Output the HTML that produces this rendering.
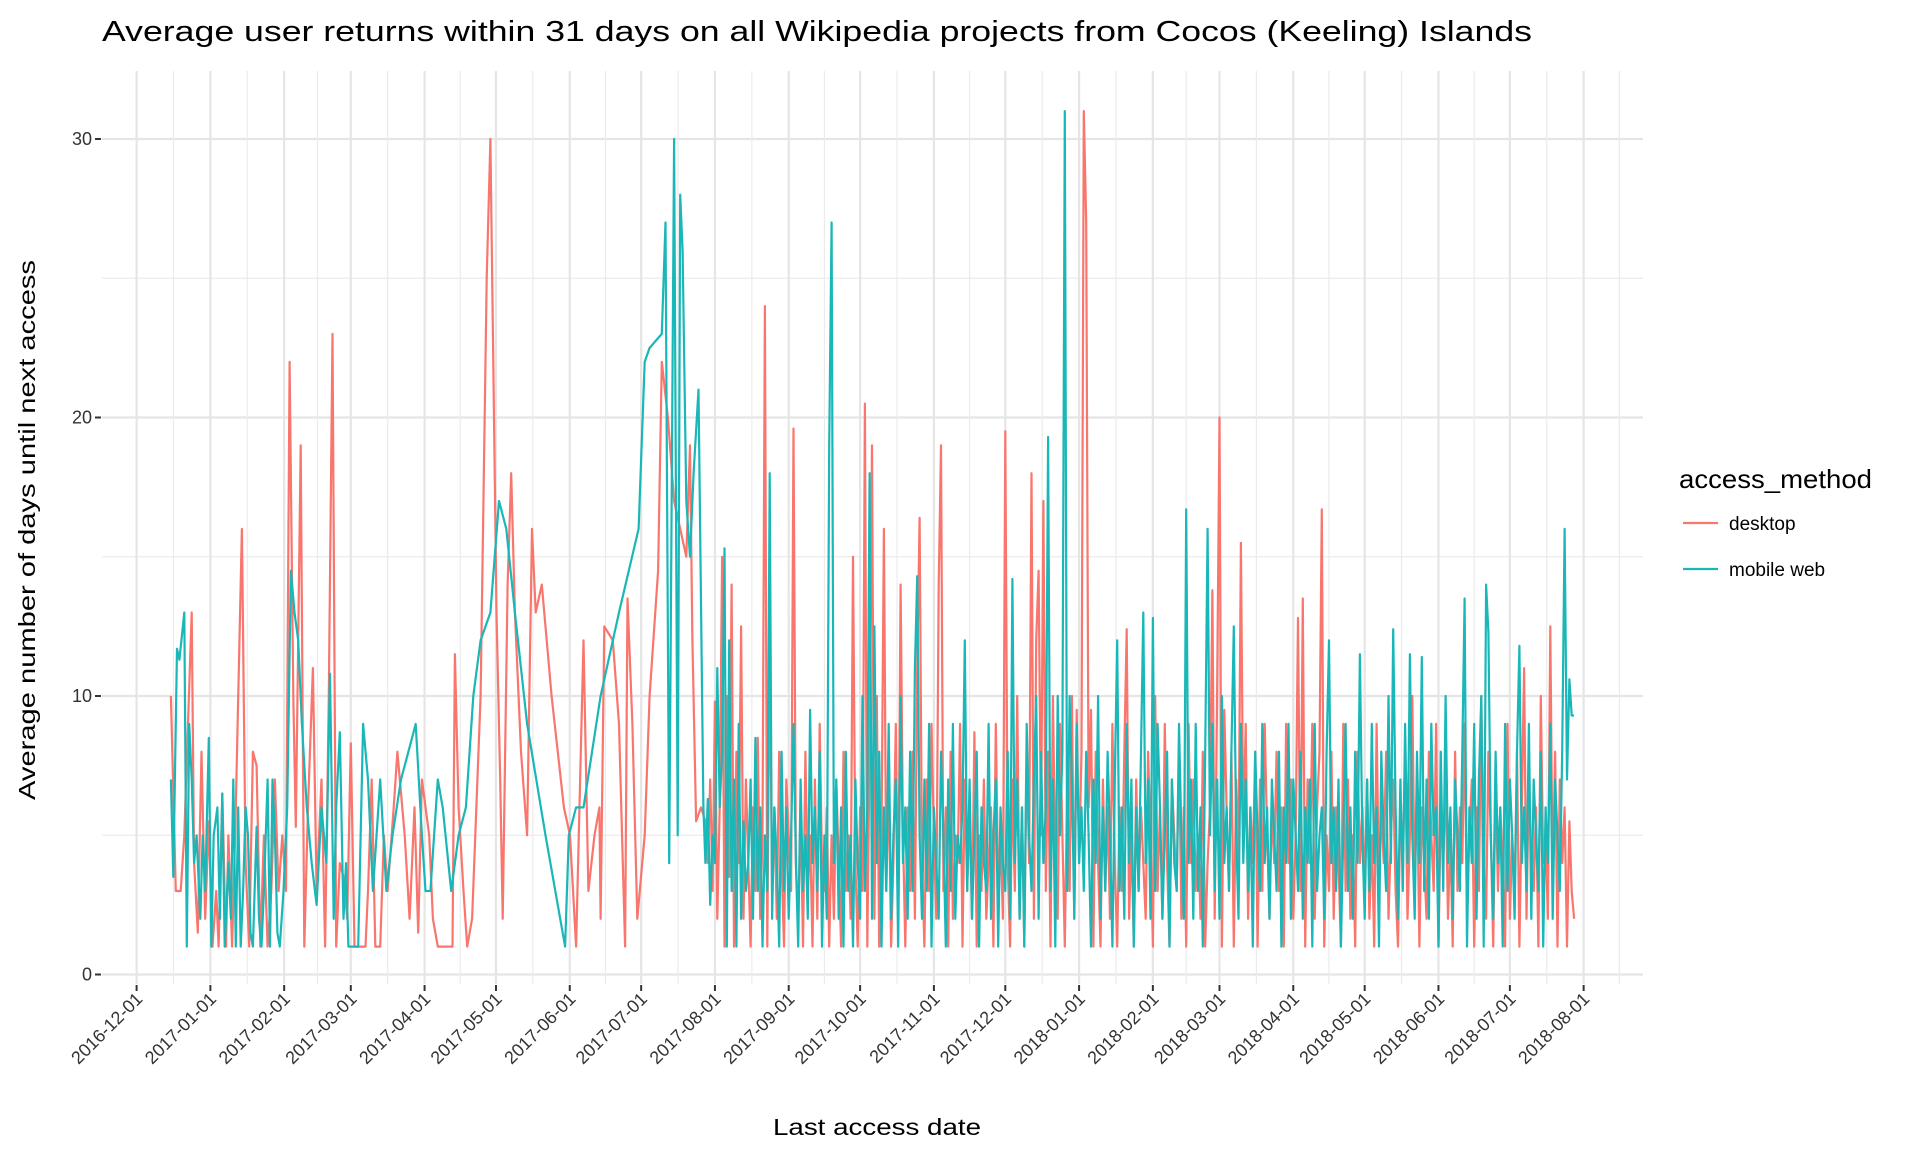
<!DOCTYPE html>
<html><head><meta charset="utf-8"><style>
body{margin:0;background:#fff}
svg{display:block;font-family:"Liberation Sans",sans-serif}
</style></head><body>
<svg id="chart" width="1920" height="1152" viewBox="0 0 1920 1152" xmlns="http://www.w3.org/2000/svg">
<rect width="1920" height="1152" fill="#fff"/>
<text x="102" y="41" font-size="29" fill="#000" textLength="1430" lengthAdjust="spacingAndGlyphs">Average user returns within 31 days on all Wikipedia projects from Cocos (Keeling) Islands</text>
<g id="grid"></g>
<g id="axes"></g>
<g id="series"></g>
<text transform="translate(35,530) rotate(-90)" text-anchor="middle" font-size="23" textLength="540" lengthAdjust="spacingAndGlyphs">Average number of days until next access</text>
<text x="877" y="1135" text-anchor="middle" font-size="23" textLength="208" lengthAdjust="spacingAndGlyphs">Last access date</text>
<g>
<text x="1679" y="488" font-size="26" textLength="193" lengthAdjust="spacingAndGlyphs">access_method</text>
<g><line x1="1683" y1="523" x2="1718" y2="523" stroke="#F8766D" stroke-width="2.2"/><text x="1729" y="530" font-size="19">desktop</text></g>
<g><line x1="1683" y1="569" x2="1718" y2="569" stroke="#1AB7B8" stroke-width="2.2"/><text x="1729" y="576" font-size="19">mobile web</text></g>
</g>
</svg>
<script>
// day offsets are days since 2016-12-01
const yTicks=[0,10,20,30];
const xTickLabels=["2016-12-01","2017-01-01","2017-02-01","2017-03-01","2017-04-01","2017-05-01","2017-06-01","2017-07-01","2017-08-01","2017-09-01","2017-10-01","2017-11-01","2017-12-01","2018-01-01","2018-02-01","2018-03-01","2018-04-01","2018-05-01","2018-06-01","2018-07-01","2018-08-01"];
const desktopEarlyX=[139,143,147,150,156,158,161,164,167,170,173,176,178,181,184,186,189,192,197,200,203,206,209,212,215,218,221,224,227,230,233,236,239,241,245,248,251,255,258,262,265,268,271,274,277,280,283,286,289,292,298,300,303,306,310,313,316,321,324,330,334,338,341,344,350,353,357,363,369,371,374,378,381,385,392,397,400,405,408,410,414,417,420,425,430,434,437,442,450,460,465,470,476,480,485,489,490,493,500,505,510,512,516,520,526,530,537,540,545,550,555,560,563,565,568,572];
const desktopEarlyV=[10,3,3,5,13,4,1.5,8,2,5.5,1,3,1,6.5,1,5,1,6,16,4,1,8,7.5,1,5,1,3,7,3,5,3,22,10,5.3,19,1,6,11,3,7,1,10,23,1,4,3.5,2,8.3,1,1,1,3,7,1,1,5,3,6,8,5,2,6,1.5,7,5,2,1,1,1,11.5,6,3,1,2,10,25,30,13,7,2,14,18,13,8,5,16,13,14,10,6,5,1,12,3,5,6,2,12.5,12,9,1,13.5,9,2,5,10,14.5,22,20,17,16,15,19,12,5.5,6];
const mobileEarlyX=[139,141,144,146,150,152,154,156,158,160,163,165,167,170,172,174,177,179,181,183,186,188,190,192,194,196,198,200,202,204,206,209,211,213,215,218,220,222,224,226,228,231,234,237,240,243,246,250,254,258,262,266,269,272,274,277,280,282,284,288,292,296,300,304,310,315,320,327,333,339,344,347,351,357,361,368,374,380,386,392,400,407,413,420,430,445,461,464,470,476,490,505,521,526,530,540,543,546,550,553,555,557,560,563,566,570,574,577,580];
const mobileEarlyV=[7,3.5,11.7,11.3,13,1,9,7,4,5,2,5,3,8.5,1,5,6,2,6.5,1,4,2,7,1,6,1,3,6,5,1.5,1,5.3,2,1,3,7,1,7,5,1.5,1,3,6,14.5,13,12,9,6,4,2.5,6,4,10.8,2,6,8.7,2,4,1,1,1,9,7,3,7,3,5,7,8,9,5,3,3,7,6,3,5,6,10,12,13,17,16,13,9,5,1,5,6,6,10,13,16,22,22.5,23,27,4,30,5,28,26,17,15,18,21,6,2.5,6];
const denseStartDay=239;
const desktopDense=[5.5,4,7,3,9.8,2,6,15,1,10,3.5,14,1,8,4,12.5,2,7,4,1,6,3,8.5,2,5,24,1,12,3,6,2,8,4,1,7,5,3,19.6,4,2,6,1,8,3,5,1,7,2,9,4,3,6,1,5,2,7,4,1,8,3,5,2,15,4,1,6,3,20.5,1,8,19,2,10,1,5,16,3,7,1,4,9,2,14,5,1,6,3,8,2,11,16.4,4,1,7,3,9,5,2,14,19,3,6,1,8,2,5,4,9,1,7,3,6,2,8.7,1,5,3,7,2,4,6,1,9,3,5,2,19.5,4,1,7,3,10,2,6,1,8,4,18,2,12,14.5,5,17,3,8,1,10,4,2,9,5,1,7,3,10,2,9.5,4,8,31,27,6,9.5,1,8,4,1,7,3,6,2,9,4,1,6,3,8,12.4,2,5,1,7,3,6,4,2,8,5,1,10,3,6,2,9,4,1,7,5,3,8,2,6,1,9,4,7,3,5,2,8,1,4,6,13.8,2,10,20,1,9.5,6,3,8,1,7,4,15.5,5,9,2,6,4,8,1,7,3,9,5,2,6,4,8,3,6,1,9,4,7,2,5,12.8,3,13.5,1,7,4,9,2,6,8,16.7,1,5,3,8,2,6,4,1,9,3,7,2,5,1,8,4,6,3,7,2,5,1,9,3,6,4,8,2,5,7,3,1,6,4,8,2,5,10,3,7,1,6,4,2,8,5,3,9,1,6,4,7,2,5,1,8,3,6,4,9,2,5,7,1,6,3,10,4,2,8,5,1,7,3,6,4,1,9,2,5,3,8,1,6,11,2,7,4,3,6,1,10,4,5,2,12.5,3,8,1,7,4,6,1,5.5,3,2];
const mobileDense=[4,6.3,2.5,5,4,11,6,8,15.3,1,12,3,7,1,9,2,5.5,3,4,7,2,8.5,3,6,1,5,3,18,2,6,4,1,8,3,6,2,5,9,4,1,7,3,5,2,9.5,4,6,3,8,1,5,2,19,27,4,7,2,6,1,8,3,5,1,7,4,2,10,3,6,18,2,12.5,4,8,1,6,3,9,2,5,7,1,10,4,6,2,8,3,11,14.3,5,2,7,3,9,1,6,4,2,8,5,1,7,3,9,2,5,4,6,12,3,7,2,5,8,1,6,4,3,9,2,5,7,1,6,4,3,8,2,14.2,4,7,2,6,1,9,5,3,7,10,2,8,4,6,19.3,3,7,1,10,5,8,31,3,10,7,2,9,4,6,3,8,5,1,7,4,10,2,6,3,8,5,1,7,12,3,6,2,9,4,7,1,6,3,8,13,4,7,2,12.8,3,9,6,2,5,8,1,7,4,3,9,5,2,16.7,4,7,2,9,3,6,1,8,16,5,9,3,7,2,10,4,6,3,8,12.5,5,2,9,4,7,3,6,1,8,5,3,9,4,6,2,7,5,3,8,1,6,4,9,2,7,5,3,8,2,6,4,7,1,9,3,5,6,2,8,12,4,6,3,7,1,5,9,3,6,2,8,4,11.5,5,2,7,3,9,4,6,1,8,5,3,10,4,12.4,6,2,7,3,9,4,11.5,5,2,8,4,11.4,3,7,2,9,5,6,1,8,3,10,4,6,2,7,5,3,8,13.5,1,6,4,9,2,7,10,1,14,12.3,5,2,8,4,6,1,9,3,7,5,2,8,11.8,4,6,3,9,2,7,5,3,8,1,6,4,9,2,7,5,3,8,16,7,10.6,9.3,9.3];

const NS="http://www.w3.org/2000/svg";
const P={l:102,r:1643,t:71,b:984};
const X0=136.6,K=2.380;
function xDay(d){return X0+d*K;}
function yVal(v){return 974.5-27.85*v;}
function dispToDay(x){return (x-111)/1.944;}
function dayOf(s){return Math.round((Date.UTC(+s.slice(0,4),+s.slice(5,7)-1,+s.slice(8,10))-Date.UTC(2016,11,1))/86400000);}
function mk(tag,attrs,parent){const e=document.createElementNS(NS,tag);for(const k in attrs)e.setAttribute(k,attrs[k]);parent.appendChild(e);return e;}
const grid=document.getElementById('grid'),axes=document.getElementById('axes'),series=document.getElementById('series');
[5,15,25].forEach(v=>{const l=mk('line',{x1:P.l,x2:P.r,y1:yVal(v),y2:yVal(v),stroke:'#ebebeb','stroke-width':1.2},grid);

});
yTicks.forEach(v=>{const l=mk('line',{x1:P.l,x2:P.r,y1:yVal(v),y2:yVal(v),stroke:'#e5e5e5','stroke-width':2.2},grid);


const t=mk('line',{x1:95,x2:101,y1:yVal(v),y2:yVal(v),stroke:'#333','stroke-width':2},axes);


const tx=mk('text',{x:92,y:yVal(v)+6,'text-anchor':'end','font-size':18,fill:'#333'},axes);tx.textContent=v;

});
const tickDays=xTickLabels.map(dayOf);
const minors=[tickDays[0]-15];for(let i=0;i<tickDays.length-1;i++)minors.push((tickDays[i]+tickDays[i+1])/2);minors.push(tickDays[tickDays.length-1]+15);
minors.forEach(d=>{const x=xDay(d);if(x<P.l-1||x>P.r+1)return;const l=mk('line',{x1:x,x2:x,y1:P.t,y2:P.b,stroke:'#ebebeb','stroke-width':1.2},grid);

});
tickDays.forEach((d,i)=>{const x=xDay(d);const l=mk('line',{x1:x,x2:x,y1:P.t,y2:P.b,stroke:'#e5e5e5','stroke-width':2.2},grid);


const t=mk('line',{x1:x,x2:x,y1:985,y2:991,stroke:'#333','stroke-width':2},axes);


const tx=mk('text',{transform:`translate(${x+7},1000) rotate(-45)`,'text-anchor':'end','font-size':18,fill:'#333'},axes);tx.textContent=xTickLabels[i];

});
function build(ex,ev,dense){const pts=[];for(let i=0;i<ex.length;i++){const d=dispToDay(ex[i]);if(d<denseStartDay)pts.push([d,ev[i]]);}
dense.forEach((v,i)=>pts.push([denseStartDay+i,v]));return pts.map(p=>xDay(p[0]).toFixed(1)+','+yVal(p[1]).toFixed(1)).join(' ');}
const pd=mk('polyline',{points:build(desktopEarlyX,desktopEarlyV,desktopDense),fill:'none',stroke:'#F8766D','stroke-width':2.2,'stroke-linejoin':'round'},series);


const pm=mk('polyline',{points:build(mobileEarlyX,mobileEarlyV,mobileDense),fill:'none',stroke:'#1AB7B8','stroke-width':2.2,'stroke-linejoin':'round'},series);


</script>
</body></html>
